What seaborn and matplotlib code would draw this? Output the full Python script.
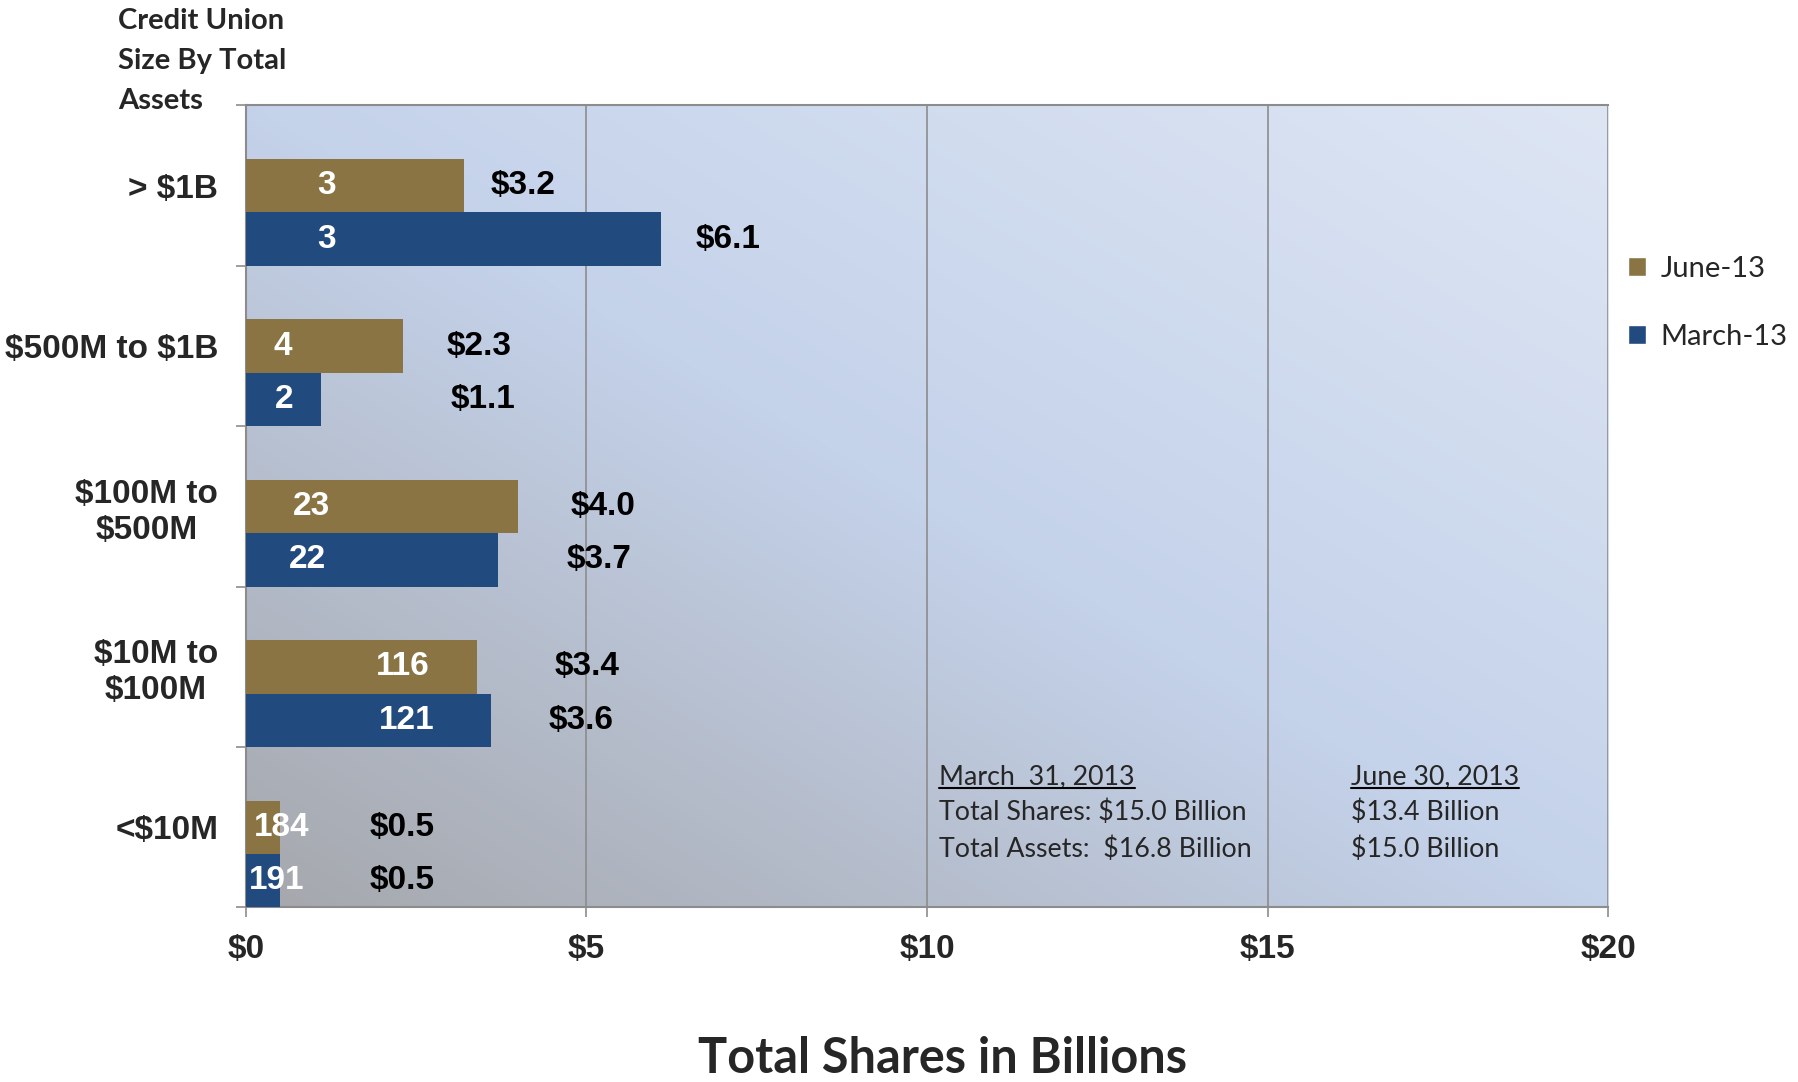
import matplotlib
matplotlib.use("Agg")
import matplotlib.pyplot as plt
import numpy as np
import pandas as pd
import seaborn as sns
from matplotlib.patches import Patch
from matplotlib.lines import Line2D

# --- DATI ---
categories = ["> $1B", "$500M to $1B", "$100M to\n$500M", "$10M to\n$100M", "<$10M"]
periods = ["June-13", "March-13"]
june_shares = [3.2, 2.3, 4.0, 3.4, 0.5]
march_shares = [6.1, 1.1, 3.7, 3.6, 0.5]
june_counts = [3, 4, 23, 116, 184]
march_counts = [3, 2, 22, 121, 191]
x_ticks = [0, 5, 10, 15, 20]
x_tick_labels = ["$0", "$5", "$10", "$15", "$20"]

# label placement as in the slide (hand moved), in billions
june_count_x = [1.18, 0.54, 0.96, 2.30, 0.52]
march_count_x = [1.18, 0.56, 0.91, 2.36, 0.45]
june_value_x = [3.59, 2.95, 4.76, 4.53, 1.82]
march_value_x = [6.60, 3.00, 4.71, 4.44, 1.82]

GOLD = "#8a7444"
NAVY = "#214a7e"
BOLD_FONT = ["Liberation Sans", "DejaVu Sans"]
CAL = ["Lato", "DejaVu Sans"]

df = pd.DataFrame({
    "category": categories * 2,
    "period": [periods[0]] * 5 + [periods[1]] * 5,
    "shares": june_shares + march_shares,
})

sns.set_style("white")
plt.rcParams["font.family"] = BOLD_FONT
plt.rcParams["text.parse_math"] = False

fig = plt.figure(figsize=(17.99, 10.82), dpi=100)
ax = fig.add_axes([0.1367, 0.1613, 0.7572, 0.7412])

sns.barplot(data=df, x="shares", y="category", hue="period", orient="h",
            order=categories, hue_order=periods, palette=[GOLD, NAVY],
            width=0.667, saturation=1, legend=False, ax=ax, zorder=3,
            linewidth=0, edgecolor="none")

y_top, y_bot = -2 / 3, 4 + 1 / 3

# diagonal gradient background: grey bottom-left -> light blue top-right
u = np.linspace(0, 1, 200)
uu, vv = np.meshgrid(u, u[::-1])
t = (uu + vv) / 2
stops_t = [0.0, 0.5, 1.0]
stops_c = np.array([[165, 167, 172], [196, 210, 234], [222, 230, 244]]) / 255.0
grad = np.stack([np.interp(t, stops_t, stops_c[:, k]) for k in range(3)], axis=-1)
ax.imshow(grad, extent=[0, 20, y_bot, y_top], aspect="auto",
          interpolation="bilinear", zorder=0)
ax.set_xlim(0, 20)
ax.set_ylim(y_bot, y_top)

for x in x_ticks[1:]:
    ax.axvline(x, color="#8c8c8c", lw=1.2, zorder=1)

for s in ["top", "left", "bottom"]:
    ax.spines[s].set_color("#8c8c8c")
    ax.spines[s].set_linewidth(1.5)
ax.spines["right"].set_visible(False)

# etichette
june_bars, march_bars = ax.containers[0], ax.containers[1]
for bars, cx, vx, counts, vals in [
        (june_bars, june_count_x, june_value_x, june_counts, june_shares),
        (march_bars, march_count_x, march_value_x, march_counts, march_shares)]:
    for rect, c_x, v_x, n, v in zip(bars, cx, vx, counts, vals):
        yc = rect.get_y() + rect.get_height() / 2
        ax.text(c_x, yc, str(n), ha="center", va="center", color="white",
                fontsize=24, fontweight="bold", zorder=4)
        ax.text(v_x, yc, f"${v:.1f}", ha="left", va="center", color="black",
                fontsize=24, fontweight="bold", zorder=4)

label_pos = [r.get_y() + r.get_height() / 2 for r in june_bars]
ax.set_yticks(label_pos, categories)
ax.set_yticks([y_top + i for i in range(6)], minor=True)
ax.tick_params(axis="y", which="major", length=0, pad=20, labelsize=24)
ax.tick_params(axis="y", which="minor", length=7, width=1.2, color="#8c8c8c", left=True)
for lab in ax.get_yticklabels():
    lab.set_fontweight("bold")
    lab.set_multialignment("center")

ax.set_xticks(x_ticks, x_tick_labels)
ax.tick_params(axis="x", length=7, width=1.2, color="#8c8c8c", pad=12, labelsize=24, bottom=True)
for lab in ax.get_xticklabels():
    lab.set_fontweight("bold")
ax.set_xlabel("")
ax.set_ylabel("")

handles = [Patch(facecolor=GOLD, label=periods[0]), Patch(facecolor=NAVY, label=periods[1])]
ax.legend(handles=handles, loc="upper left", bbox_to_anchor=(1.004, 0.831),
          frameon=False, prop={"family": CAL, "size": 21}, handlelength=0.6,
          handleheight=0.6, handletextpad=0.5, labelspacing=1.45, borderpad=0)

# note nel grafico
note_font = {"family": CAL, "size": 19.3}
t1 = ax.text(0.509, 0.163, "March  31, 2013", transform=ax.transAxes, va="center", **note_font)
ax.text(0.509, 0.119, "Total Shares: $15.0 Billion", transform=ax.transAxes, va="center", **note_font)
ax.text(0.509, 0.073, "Total Assets:  $16.8 Billion", transform=ax.transAxes, va="center", **note_font)
t2 = ax.text(0.811, 0.163, "June 30, 2013", transform=ax.transAxes, va="center", **note_font)
ax.text(0.811, 0.119, "$13.4 Billion", transform=ax.transAxes, va="center", **note_font)
ax.text(0.811, 0.073, "$15.0 Billion", transform=ax.transAxes, va="center", **note_font)

fig.text(0.0655, 0.9435, "Credit Union\nSize By Total\nAssets", ha="left", va="center",
         family=CAL, fontsize=21, fontweight="bold", linespacing=1.65)
fig.text(0.524, 0.022, "Total Shares in Billions", ha="center", va="center",
         family=CAL, fontsize=35, fontweight="bold")

# sottolineatura delle date
fig.canvas.draw()
inv = fig.transFigure.inverted()
for txt in (t1, t2):
    bb = txt.get_window_extent()
    (x0, y0), (x1, _) = inv.transform([(bb.x0, bb.y0 + 1), (bb.x1, bb.y0 + 1)])
    fig.add_artist(Line2D([x0, x1], [y0, y0], color="black", lw=1.5, transform=fig.transFigure))

fig.savefig("out.png", dpi=100)
plt.close(fig)
